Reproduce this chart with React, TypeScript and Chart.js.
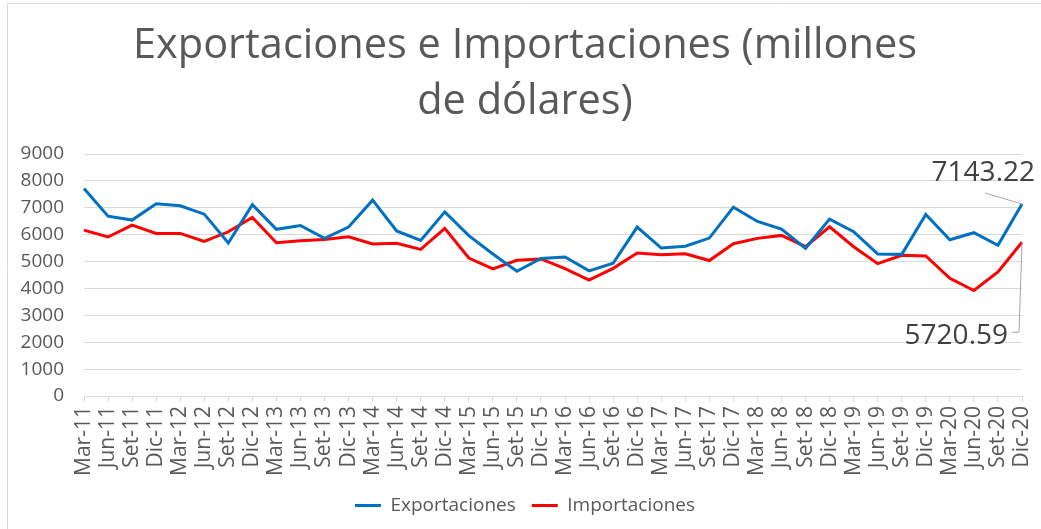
import React, { useEffect, useRef } from "react";
import { Chart, registerables } from "chart.js";

Chart.register(...registerables);

const categories = [
  "Mar-11", "Jun-11", "Set-11", "Dic-11",
  "Mar-12", "Jun-12", "Set-12", "Dic-12",
  "Mar-13", "Jun-13", "Set-13", "Dic-13",
  "Mar-14", "Jun-14", "Set-14", "Dic-14",
  "Mar-15", "Jun-15", "Set-15", "Dic-15",
  "Mar-16", "Jun-16", "Set-16", "Dic-16",
  "Mar-17", "Jun-17", "Set-17", "Dic-17",
  "Mar-18", "Jun-18", "Set-18", "Dic-18",
  "Mar-19", "Jun-19", "Set-19", "Dic-19",
  "Mar-20", "Jun-20", "Set-20", "Dic-20",
];

const exportaciones = [
  7715, 6690, 6545, 7150,
  7075, 6765, 5690, 7120,
  6200, 6345, 5865, 6285,
  7285, 6140, 5790, 6850,
  5965, 5285, 4640, 5120,
  5175, 4655, 4940, 6285,
  5505, 5570, 5876, 7025,
  6495, 6210, 5495, 6580,
  6110, 5285, 5270, 6750,
  5815, 6075, 5605, 7143.22,
];

const importaciones = [
  6170, 5915, 6360, 6050,
  6050, 5750, 6110, 6640,
  5705, 5780, 5825, 5925,
  5655, 5685, 5455, 6235,
  5135, 4730, 5050, 5100,
  4740, 4310, 4750, 5320,
  5260, 5295, 5040, 5665,
  5865, 5975, 5555, 6295,
  5555, 4925, 5235, 5210,
  4380, 3925, 4620, 5720.59,
];

const titleLines = ["Exportaciones e Importaciones (millones", "de dólares)"];
const FONT = "'Open Sans', sans-serif";

const borderPlugin = {
  id: "frameBorder",
  beforeDraw(chart: any) {
    const ctx = chart.ctx;
    ctx.save();
    ctx.strokeStyle = "#d9d9d9";
    ctx.lineWidth = 1;
    ctx.beginPath();
    ctx.moveTo(7.5, chart.height);
    ctx.lineTo(7.5, 3.5);
    ctx.lineTo(chart.width, 3.5);
    ctx.stroke();
    ctx.restore();
  },
};

const lastLabelPlugin = {
  id: "lastLabels",
  afterDatasetsDraw(chart: any) {
    const ctx = chart.ctx;
    const m0 = chart.getDatasetMeta(0).data;
    const m1 = chart.getDatasetMeta(1).data;
    const p0 = m0[m0.length - 1];
    const p1 = m1[m1.length - 1];
    const v0 = exportaciones[exportaciones.length - 1];
    const v1 = importaciones[importaciones.length - 1];
    ctx.save();
    ctx.strokeStyle = "#a6a6a6";
    ctx.lineWidth = 1;
    ctx.beginPath();
    ctx.moveTo(p0.x - 37, p0.y - 11);
    ctx.lineTo(p0.x, p0.y);
    ctx.stroke();
    ctx.beginPath();
    ctx.moveTo(p1.x - 10, p1.y + 90);
    ctx.lineTo(p1.x - 3, p1.y + 90);
    ctx.lineTo(p1.x, p1.y);
    ctx.stroke();
    ctx.fillStyle = "#404040";
    ctx.font = `28px ${FONT}`;
    ctx.textBaseline = "middle";
    ctx.textAlign = "right";
    ctx.fillText(v0.toFixed(2), p0.x + 13, p0.y - 31);
    ctx.fillText(v1.toFixed(2), p1.x - 14, p1.y + 94);
    ctx.restore();
  },
};

export default function App() {
  const ref = useRef<HTMLCanvasElement | null>(null);
  useEffect(() => {
    if (!ref.current) return;
    const chart = new Chart(ref.current, {
      type: "line",
      data: {
        labels: categories,
        datasets: [
          {
            label: "Exportaciones",
            data: exportaciones,
            borderColor: "#0070C0",
            backgroundColor: "#0070C0",
            borderWidth: 3,
            pointRadius: 0,
            tension: 0,
          },
          {
            label: "Importaciones",
            data: importaciones,
            borderColor: "#FF0000",
            backgroundColor: "#FF0000",
            borderWidth: 3,
            pointRadius: 0,
            tension: 0,
          },
        ],
      },
      options: {
        animation: false,
        responsive: true,
        maintainAspectRatio: false,
        layout: { padding: { top: 18, left: 19, right: 10, bottom: 4 } },
        plugins: {
          title: {
            display: true,
            text: titleLines,
            color: "#595959",
            font: { family: FONT, size: 41.5, weight: "normal", lineHeight: 1.35 },
            padding: { top: 0, bottom: 24 },
          },
          legend: {
            position: "bottom",
            labels: {
              usePointStyle: true,
              pointStyle: "line",
              pointStyleWidth: 26,
              color: "#595959",
              font: { family: FONT, size: 19 },
              padding: 16,
            },
          },
          tooltip: { enabled: false },
        },
        scales: {
          x: {
            afterFit: (scale: any) => {
              scale.paddingLeft = 0;
              scale.paddingRight = 19;
            },
            grid: {
              display: true,
              drawOnChartArea: false,
              drawTicks: true,
              tickLength: 6,
              color: "#d9d9d9",
            },
            border: { display: true, color: "#d9d9d9" },
            ticks: {
              autoSkip: false,
              maxRotation: 90,
              minRotation: 90,
              color: "#595959",
              font: { family: FONT, size: 21 },
              padding: 4,
            },
          },
          y: {
            min: 0,
            max: 9000,
            afterFit: (scale: any) => {
              scale.width = 65;
            },
            ticks: {
              stepSize: 1000,
              color: "#595959",
              font: { family: FONT, size: 19 },
              padding: 20,
              callback: (v: any) => String(v),
            },
            grid: { color: "#d9d9d9", drawTicks: false },
            border: { display: false },
          },
        },
      },
      plugins: [borderPlugin, lastLabelPlugin],
    });
    return () => chart.destroy();
  }, []);
  return (
    <div style={{ position: "fixed", left: 0, top: 0, width: 1041, height: 529, background: "#fff" }}>
      <canvas ref={ref} />
    </div>
  );
}
